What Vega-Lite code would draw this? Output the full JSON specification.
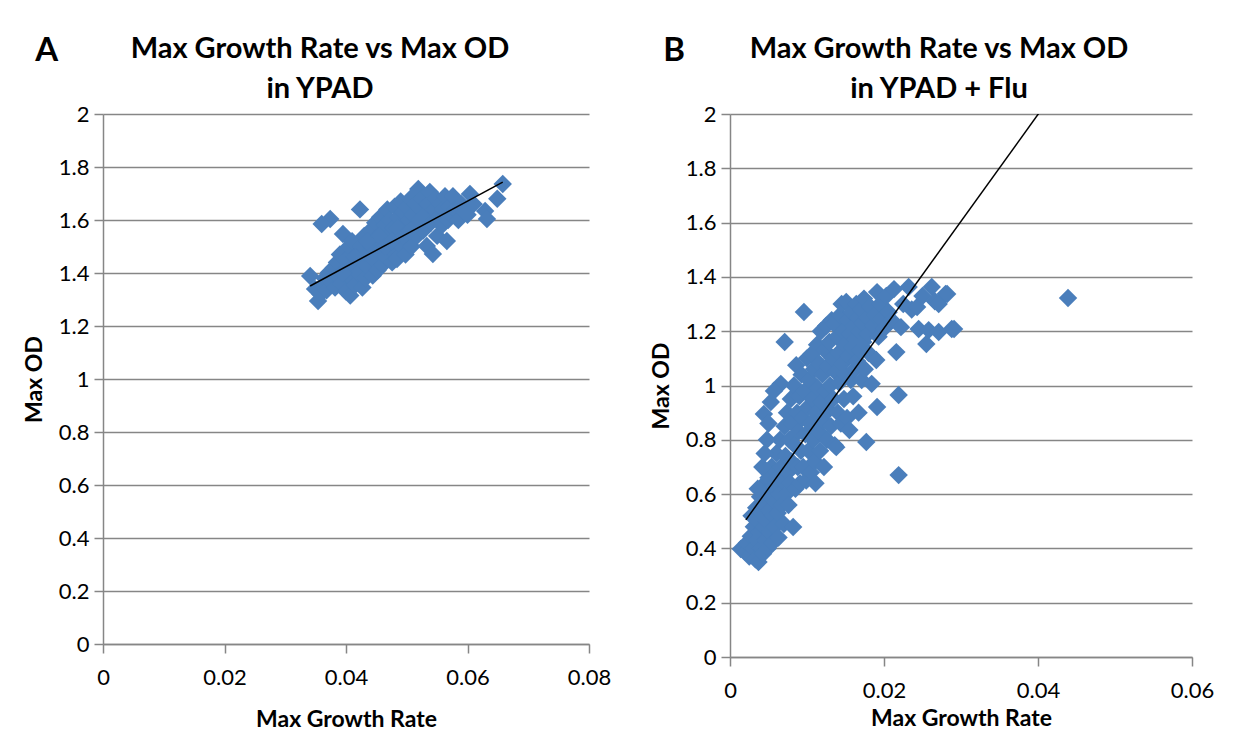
{
"$schema": "https://vega.github.io/schema/vega-lite/v6.json",
"background": "white",
"padding": {"left": 23, "top": 35, "right": 0, "bottom": 0},
"config": {
  "view": {"stroke": null},
  "font": "Lato",
  "axis": {"domainColor": "#868686", "domainWidth": 1.5, "tickColor": "#868686", "tickWidth": 1.5, "tickSize": 9, "gridColor": "#868686", "gridWidth": 1.5, "labelFont": "Lato", "labelFontSize": 22, "labelColor": "#000000", "titleFont": "Lato", "titleFontSize": 23, "titleFontWeight": "bold", "titleColor": "#000000", "labelFlush": false},
  "axisX": {"grid": false, "labelPadding": 14, "titlePadding": 20},
  "axisY": {"grid": true, "labelPadding": 5, "titlePadding": 12},
  "title": {"font": "Lato", "fontSize": 29, "fontWeight": "bold", "color": "#000000", "lineHeight": 40}
},
"datasets": {
  "ypad": [
    {"rate":0.0341,"od":1.389},{"rate":0.0349,"od":1.340},{"rate":0.0354,"od":1.294},{"rate":0.0358,"od":1.320},{"rate":0.0362,"od":1.352},{"rate":0.0365,"od":1.380},{"rate":0.0368,"od":1.335},{"rate":0.0372,"od":1.402},{"rate":0.0374,"od":1.604},{"rate":0.0360,"od":1.585},
    {"rate":0.0376,"od":1.365},{"rate":0.0380,"od":1.420},{"rate":0.0382,"od":1.345},{"rate":0.0385,"od":1.440},{"rate":0.0388,"od":1.385},{"rate":0.0390,"od":1.470},{"rate":0.0392,"od":1.360},{"rate":0.0395,"od":1.547},{"rate":0.0398,"od":1.410},{"rate":0.0400,"od":1.330},
    {"rate":0.0402,"od":1.455},{"rate":0.0405,"od":1.500},{"rate":0.0407,"od":1.315},{"rate":0.0408,"od":1.380},{"rate":0.0410,"od":1.520},{"rate":0.0412,"od":1.430},{"rate":0.0415,"od":1.355},{"rate":0.0418,"od":1.470},{"rate":0.0420,"od":1.400},{"rate":0.0423,"od":1.640},
    {"rate":0.0425,"od":1.500},{"rate":0.0427,"od":1.345},{"rate":0.0428,"od":1.440},{"rate":0.0430,"od":1.540},{"rate":0.0432,"od":1.380},{"rate":0.0435,"od":1.470},{"rate":0.0437,"od":1.420},{"rate":0.0440,"od":1.560},{"rate":0.0442,"od":1.500},{"rate":0.0444,"od":1.390},
    {"rate":0.0446,"od":1.450},{"rate":0.0448,"od":1.590},{"rate":0.0450,"od":1.530},{"rate":0.0452,"od":1.410},{"rate":0.0454,"od":1.480},{"rate":0.0456,"od":1.610},{"rate":0.0458,"od":1.550},{"rate":0.0460,"od":1.430},{"rate":0.0462,"od":1.510},{"rate":0.0464,"od":1.580},
    {"rate":0.0466,"od":1.460},{"rate":0.0468,"od":1.640},{"rate":0.0470,"od":1.540},{"rate":0.0472,"od":1.600},{"rate":0.0474,"od":1.490},{"rate":0.0476,"od":1.440},{"rate":0.0478,"od":1.570},{"rate":0.0480,"od":1.650},{"rate":0.0482,"od":1.520},{"rate":0.0484,"od":1.453},
    {"rate":0.0486,"od":1.610},{"rate":0.0488,"od":1.560},{"rate":0.0490,"od":1.670},{"rate":0.0492,"od":1.500},{"rate":0.0494,"od":1.630},{"rate":0.0496,"od":1.580},{"rate":0.0498,"od":1.470},{"rate":0.0500,"od":1.650},{"rate":0.0502,"od":1.540},{"rate":0.0504,"od":1.600},
    {"rate":0.0506,"od":1.680},{"rate":0.0508,"od":1.500},{"rate":0.0510,"od":1.620},{"rate":0.0512,"od":1.570},{"rate":0.0515,"od":1.660},{"rate":0.0517,"od":1.540},{"rate":0.0519,"od":1.717},{"rate":0.0521,"od":1.600},{"rate":0.0523,"od":1.640},{"rate":0.0525,"od":1.680},
    {"rate":0.0527,"od":1.560},{"rate":0.0530,"od":1.620},{"rate":0.0533,"od":1.502},{"rate":0.0535,"od":1.660},{"rate":0.0538,"od":1.706},{"rate":0.0540,"od":1.590},{"rate":0.0543,"od":1.472},{"rate":0.0545,"od":1.640},{"rate":0.0548,"od":1.680},{"rate":0.0550,"od":1.540},
    {"rate":0.0552,"od":1.610},{"rate":0.0555,"od":1.660},{"rate":0.0558,"od":1.580},{"rate":0.0560,"od":1.640},{"rate":0.0563,"od":1.690},{"rate":0.0566,"od":1.521},{"rate":0.0568,"od":1.600},{"rate":0.0570,"od":1.650},{"rate":0.0573,"od":1.620},{"rate":0.0576,"od":1.690},
    {"rate":0.0580,"od":1.640},{"rate":0.0585,"od":1.600},{"rate":0.0590,"od":1.660},{"rate":0.0595,"od":1.630},{"rate":0.0604,"od":1.698},{"rate":0.0600,"od":1.620},{"rate":0.0610,"od":1.660},{"rate":0.0629,"od":1.634},{"rate":0.0632,"od":1.604},{"rate":0.0649,"od":1.680},
    {"rate":0.0658,"od":1.736},{"rate":0.0395,"od":1.400},{"rate":0.0415,"od":1.460},{"rate":0.0435,"od":1.520},{"rate":0.0455,"od":1.540},{"rate":0.0465,"od":1.500},{"rate":0.0475,"od":1.520},{"rate":0.0485,"od":1.570},{"rate":0.0495,"od":1.540},{"rate":0.0505,"od":1.560}
  ],
  "flu": [
    {"rate":0.0014,"od":0.398},{"rate":0.0020,"od":0.387},{"rate":0.0022,"od":0.420},{"rate":0.0025,"od":0.370},{"rate":0.0027,"od":0.445},{"rate":0.0028,"od":0.520},{"rate":0.0030,"od":0.400},{"rate":0.0031,"od":0.480},{"rate":0.0033,"od":0.360},{"rate":0.0034,"od":0.550},
    {"rate":0.0035,"od":0.430},{"rate":0.0036,"od":0.500},{"rate":0.0037,"od":0.350},{"rate":0.0038,"od":0.460},{"rate":0.0039,"od":0.590},{"rate":0.0040,"od":0.400},{"rate":0.0041,"od":0.530},{"rate":0.0042,"od":0.630},{"rate":0.0043,"od":0.380},{"rate":0.0044,"od":0.480},
    {"rate":0.0045,"od":0.560},{"rate":0.0046,"od":0.430},{"rate":0.0047,"od":0.610},{"rate":0.0048,"od":0.500},{"rate":0.0049,"od":0.400},{"rate":0.0050,"od":0.660},{"rate":0.0051,"od":0.540},{"rate":0.0052,"od":0.460},{"rate":0.0053,"od":0.590},{"rate":0.0054,"od":0.700},
    {"rate":0.0055,"od":0.420},{"rate":0.0056,"od":0.520},{"rate":0.0057,"od":0.630},{"rate":0.0058,"od":0.480},{"rate":0.0059,"od":0.570},{"rate":0.0060,"od":0.750},{"rate":0.0061,"od":0.660},{"rate":0.0062,"od":0.530},{"rate":0.0063,"od":0.440},{"rate":0.0064,"od":0.600},
    {"rate":0.0065,"od":0.800},{"rate":0.0066,"od":0.700},{"rate":0.0067,"od":0.560},{"rate":0.0068,"od":0.650},{"rate":0.0070,"od":0.490},{"rate":0.0071,"od":0.850},{"rate":0.0072,"od":0.740},{"rate":0.0073,"od":0.600},{"rate":0.0074,"od":0.900},{"rate":0.0075,"od":0.680},
    {"rate":0.0076,"od":0.560},{"rate":0.0077,"od":0.800},{"rate":0.0078,"od":0.640},{"rate":0.0079,"od":0.950},{"rate":0.0080,"od":0.720},{"rate":0.0081,"od":0.860},{"rate":0.0082,"od":0.479},{"rate":0.0083,"od":1.000},{"rate":0.0084,"od":0.780},{"rate":0.0085,"od":0.620},
    {"rate":0.0086,"od":1.075},{"rate":0.0087,"od":0.900},{"rate":0.0088,"od":0.700},{"rate":0.0089,"od":0.830},{"rate":0.0090,"od":0.960},{"rate":0.0091,"od":0.640},{"rate":0.0092,"od":0.760},{"rate":0.0093,"od":1.040},{"rate":0.0094,"od":0.880},{"rate":0.0096,"od":1.271},
    {"rate":0.0095,"od":0.700},{"rate":0.0097,"od":0.980},{"rate":0.0098,"od":0.820},{"rate":0.0099,"od":0.650},{"rate":0.0100,"od":1.100},{"rate":0.0101,"od":0.920},{"rate":0.0102,"od":0.760},{"rate":0.0103,"od":1.020},{"rate":0.0104,"od":0.860},{"rate":0.0105,"od":0.680},
    {"rate":0.0106,"od":1.116},{"rate":0.0107,"od":0.950},{"rate":0.0108,"od":0.800},{"rate":0.0109,"od":1.060},{"rate":0.0110,"od":0.720},{"rate":0.0111,"od":0.640},{"rate":0.0112,"od":0.900},{"rate":0.0113,"od":1.150},{"rate":0.0114,"od":0.990},{"rate":0.0115,"od":0.830},
    {"rate":0.0116,"od":1.080},{"rate":0.0117,"od":0.760},{"rate":0.0118,"od":1.200},{"rate":0.0119,"od":0.940},{"rate":0.0120,"od":1.040},{"rate":0.0121,"od":0.870},{"rate":0.0122,"od":0.700},{"rate":0.0123,"od":1.130},{"rate":0.0124,"od":0.980},{"rate":0.0125,"od":1.220},
    {"rate":0.0126,"od":0.800},{"rate":0.0127,"od":1.070},{"rate":0.0128,"od":0.910},{"rate":0.0129,"od":1.160},{"rate":0.0130,"od":1.000},{"rate":0.0131,"od":0.850},{"rate":0.0132,"od":1.240},{"rate":0.0133,"od":1.100},{"rate":0.0134,"od":0.950},{"rate":0.0135,"od":1.227},
    {"rate":0.0136,"od":0.780},{"rate":0.0137,"od":1.050},{"rate":0.0138,"od":0.773},{"rate":0.0139,"od":1.180},{"rate":0.0140,"od":0.900},{"rate":0.0141,"od":1.120},{"rate":0.0142,"od":1.010},{"rate":0.0143,"od":1.260},{"rate":0.0144,"od":0.860},{"rate":0.0145,"od":1.300},
    {"rate":0.0146,"od":1.080},{"rate":0.0147,"od":1.200},{"rate":0.0148,"od":0.950},{"rate":0.0149,"od":1.150},{"rate":0.0150,"od":1.040},{"rate":0.0151,"od":1.308},{"rate":0.0152,"od":0.880},{"rate":0.0153,"od":1.240},{"rate":0.0154,"od":1.110},{"rate":0.0155,"od":0.836},
    {"rate":0.0156,"od":1.190},{"rate":0.0157,"od":1.020},{"rate":0.0158,"od":1.270},{"rate":0.0159,"od":1.140},{"rate":0.0160,"od":0.960},{"rate":0.0161,"od":1.220},{"rate":0.0162,"od":1.060},{"rate":0.0163,"od":1.170},{"rate":0.0164,"od":1.300},{"rate":0.0165,"od":1.090},
    {"rate":0.0166,"od":1.250},{"rate":0.0167,"od":0.900},{"rate":0.0168,"od":1.200},{"rate":0.0169,"od":1.130},{"rate":0.0170,"od":1.280},{"rate":0.0171,"od":1.020},{"rate":0.0172,"od":1.230},{"rate":0.0173,"od":1.160},{"rate":0.0174,"od":1.320},{"rate":0.0175,"od":1.060},
    {"rate":0.0177,"od":0.792},{"rate":0.0178,"od":1.250},{"rate":0.0179,"od":1.190},{"rate":0.0180,"od":1.120},{"rate":0.0182,"od":1.290},{"rate":0.0184,"od":1.006},{"rate":0.0186,"od":1.220},{"rate":0.0188,"od":1.260},{"rate":0.0190,"od":1.094},{"rate":0.0191,"od":1.344},
    {"rate":0.0191,"od":0.921},{"rate":0.0193,"od":1.180},{"rate":0.0195,"od":1.300},{"rate":0.0197,"od":1.245},{"rate":0.0200,"od":1.210},{"rate":0.0203,"od":1.330},{"rate":0.0206,"od":1.270},{"rate":0.0210,"od":1.240},{"rate":0.0213,"od":1.355},{"rate":0.0216,"od":1.123},
    {"rate":0.0219,"od":0.965},{"rate":0.0219,"od":0.670},{"rate":0.0222,"od":1.215},{"rate":0.0225,"od":1.300},{"rate":0.0232,"od":1.363},{"rate":0.0236,"od":1.280},{"rate":0.0243,"od":1.289},{"rate":0.0245,"od":1.208},{"rate":0.0250,"od":1.330},{"rate":0.0255,"od":1.153},
    {"rate":0.0258,"od":1.204},{"rate":0.0262,"od":1.363},{"rate":0.0266,"od":1.310},{"rate":0.0271,"od":1.300},{"rate":0.0271,"od":1.197},{"rate":0.0280,"od":1.337},{"rate":0.0282,"od":1.337},{"rate":0.0288,"od":1.208},{"rate":0.0291,"od":1.208},{"rate":0.0439,"od":1.322},
    {"rate":0.0071,"od":1.160},{"rate":0.0066,"od":1.006},{"rate":0.0053,"od":0.939},{"rate":0.0044,"od":0.895},{"rate":0.0048,"od":0.800},{"rate":0.0042,"od":0.700},{"rate":0.0050,"od":0.860},{"rate":0.0057,"od":0.980},{"rate":0.0036,"od":0.620},{"rate":0.0045,"od":0.750}
  ],
  "trendA": [{"rate":0.0341,"od":1.351},{"rate":0.0658,"od":1.743}],
  "trendB": [{"rate":0.00206,"od":0.505},{"rate":0.0439,"od":2.152}]
},
"spacing": 39,
"hconcat": [
  {
    "title": {"text": "A", "anchor": "start", "fontSize": 33, "dx": 12, "offset": -33},
    "vconcat": [{
      "title": {"text": ["Max Growth Rate vs Max OD", "in YPAD"], "anchor": "middle", "dx": -26, "offset": -1},
      "width": 486, "height": 530,
      "layer": [
        {"data": {"name": "ypad"}, "mark": {"type": "point", "shape": "diamond", "filled": true, "size": 340, "color": "#4A7EBB", "opacity": 1},
         "encoding": {
           "x": {"field": "rate", "type": "quantitative", "title": "Max Growth Rate", "scale": {"domain": [0, 0.08], "nice": false}, "axis": {"values": [0, 0.02, 0.04, 0.06, 0.08], "format": "~g"}},
           "y": {"field": "od", "type": "quantitative", "title": "Max OD", "scale": {"domain": [0, 2], "nice": false}, "axis": {"values": [0, 0.2, 0.4, 0.6, 0.8, 1, 1.2, 1.4, 1.6, 1.8, 2], "format": "~g"}}
         }},
        {"data": {"name": "trendA"}, "mark": {"type": "line", "color": "#000000", "strokeWidth": 1.5},
         "encoding": {"x": {"field": "rate", "type": "quantitative"}, "y": {"field": "od", "type": "quantitative"}}}
      ]
    }]
  },
  {
    "title": {"text": "B", "anchor": "start", "fontSize": 33, "dx": 13, "offset": -33},
    "vconcat": [{
      "title": {"text": ["Max Growth Rate vs Max OD", "in YPAD + Flu"], "anchor": "middle", "dx": -22, "offset": -1},
      "width": 462, "height": 543,
      "layer": [
        {"data": {"name": "flu"}, "mark": {"type": "point", "shape": "diamond", "filled": true, "size": 340, "color": "#4A7EBB", "opacity": 1},
         "encoding": {
           "x": {"field": "rate", "type": "quantitative", "title": "Max Growth Rate", "scale": {"domain": [0, 0.06], "nice": false}, "axis": {"values": [0, 0.02, 0.04, 0.06], "format": "~g", "titlePadding": 6}},
           "y": {"field": "od", "type": "quantitative", "title": "Max OD", "scale": {"domain": [0, 2], "nice": false}, "axis": {"values": [0, 0.2, 0.4, 0.6, 0.8, 1, 1.2, 1.4, 1.6, 1.8, 2], "format": "~g"}}
         }},
        {"data": {"name": "trendB"}, "mark": {"type": "line", "color": "#000000", "strokeWidth": 1.5, "clip": true},
         "encoding": {"x": {"field": "rate", "type": "quantitative"}, "y": {"field": "od", "type": "quantitative"}}}
      ]
    }]
  }
]
}
